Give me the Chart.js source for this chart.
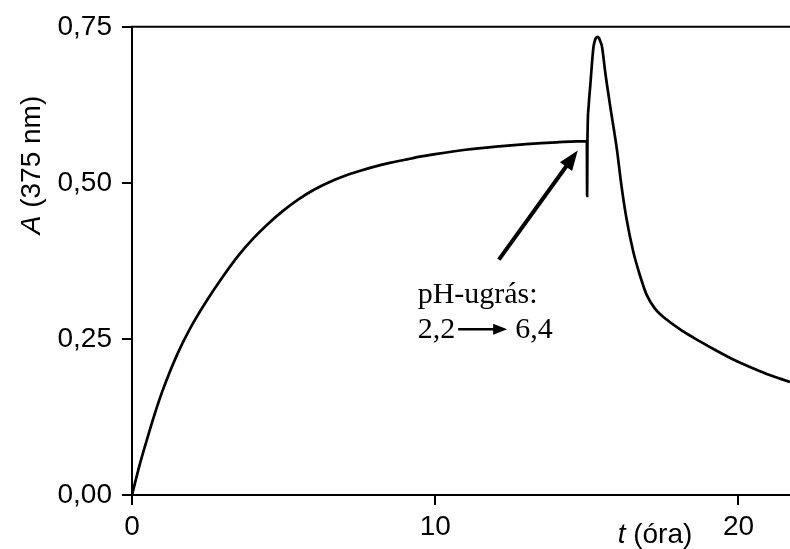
<!DOCTYPE html>
<html><head><meta charset="utf-8">
<script src="https://cdn.jsdelivr.net/npm/chart.js@4/dist/chart.umd.min.js"></script>
<style>html,body{margin:0;padding:0;background:#fff}#wrap{width:790px;height:549px}</style>
</head><body><div id="wrap"><canvas id="c" width="790" height="549"></canvas></div>
<script>
// time (hours)
const timeHours = [0, 0.25, 0.5, 0.75, 1.0, 1.5, 2.0, 2.5, 3.0, 3.5, 4.0, 4.5, 5.0, 5.5, 6.0, 6.5, 7.0, 7.5, 8.0, 8.5, 9.0, 9.5, 10.0, 11.0, 12.0, 13.0, 14.0, 15.0,
  15.01, 15.02, 15.06, 15.12, 15.17, 15.22, 15.26, 15.30, 15.35, 15.40, 15.45, 15.50, 15.61, 15.77, 15.99, 16.14, 16.31, 16.53, 16.75, 16.97, 17.24, 17.63, 18.18, 18.73, 19.28, 19.83, 20.38, 20.93, 21.70];
// absorbance at 375 nm
const absorbance = [0.000, 0.048, 0.090, 0.130, 0.166, 0.226, 0.274, 0.314, 0.350, 0.383, 0.411, 0.435, 0.456, 0.474, 0.489, 0.501, 0.511, 0.519, 0.526, 0.532, 0.537, 0.542, 0.546, 0.553, 0.558, 0.562, 0.565, 0.567,
  0.479, 0.567, 0.623, 0.660, 0.692, 0.718, 0.727, 0.732, 0.734, 0.732, 0.726, 0.718, 0.676, 0.623, 0.554, 0.496, 0.442, 0.390, 0.352, 0.321, 0.299, 0.281, 0.262, 0.246, 0.231, 0.217, 0.205, 0.194, 0.181];
const xTickValues = [0, 10, 20];
const yTickValues = [0, 0.25, 0.5, 0.75];
const yTitleParts = ['A', ' (375 nm)'];
const xTitleParts = ['t', ' (óra)'];
const noteLine1 = 'pH-ugrás:';
const notePhFrom = '2,2';
const notePhTo = '6,4';

const SANS = '"Liberation Sans", Arial, sans-serif';
const SERIF = '"Liberation Serif", "Times New Roman", serif';

function arrow(ctx, x1, y1, x2, y2, lw, headLen, headW) {
  const ang = Math.atan2(y2 - y1, x2 - x1);
  const bx = x2 - headLen * Math.cos(ang), by = y2 - headLen * Math.sin(ang);
  ctx.lineWidth = lw; ctx.lineCap = 'butt';
  ctx.beginPath(); ctx.moveTo(x1, y1); ctx.lineTo(bx + 2 * Math.cos(ang), by + 2 * Math.sin(ang)); ctx.stroke();
  ctx.beginPath();
  ctx.moveTo(x2, y2);
  ctx.lineTo(bx + headW / 2 * Math.sin(ang), by - headW / 2 * Math.cos(ang));
  ctx.lineTo(bx - headW / 2 * Math.sin(ang), by + headW / 2 * Math.cos(ang));
  ctx.closePath(); ctx.fill();
}

const decor = {
  id: 'decor',
  afterDraw(chart) {
    const { ctx, chartArea: a, scales: { x, y } } = chart;
    ctx.save();
    ctx.strokeStyle = '#000'; ctx.fillStyle = '#000';
    // top frame line
    ctx.lineWidth = 2;
    ctx.beginPath(); ctx.moveTo(a.left - 1, a.top); ctx.lineTo(a.right, a.top); ctx.stroke();

    // y title (rotated)
    ctx.save();
    ctx.translate(40, 165); ctx.rotate(-Math.PI / 2);
    ctx.textBaseline = 'alphabetic'; ctx.textAlign = 'left';
    ctx.font = 'italic 28px ' + SANS; const w1 = ctx.measureText(yTitleParts[0]).width;
    ctx.font = '28px ' + SANS; const w2 = ctx.measureText(yTitleParts[1]).width;
    let sx = -(w1 + w2) / 2;
    ctx.font = 'italic 28px ' + SANS; ctx.fillText(yTitleParts[0], sx, 0);
    ctx.font = '28px ' + SANS; ctx.fillText(yTitleParts[1], sx + w1, 0);
    ctx.restore();

    // x title
    ctx.textBaseline = 'alphabetic'; ctx.textAlign = 'left';
    ctx.font = 'italic 28px ' + SANS; const t1 = ctx.measureText(xTitleParts[0]).width;
    ctx.font = '28px ' + SANS; const t2 = ctx.measureText(xTitleParts[1]).width;
    const xs = 655 - (t1 + t2) / 2;
    ctx.font = 'italic 28px ' + SANS; ctx.fillText(xTitleParts[0], xs, 543);
    ctx.font = '28px ' + SANS; ctx.fillText(xTitleParts[1], xs + t1, 543);

    // annotation arrow (data coordinates)
    arrow(ctx, x.getPixelForValue(12.1), y.getPixelForValue(0.377), x.getPixelForValue(14.7), y.getPixelForValue(0.552), 4, 20, 15);

    // annotation text
    ctx.font = '30px ' + SERIF;
    const tx = x.getPixelForValue(9.42);
    const b1 = y.getPixelForValue(0.307), b2 = y.getPixelForValue(0.251);
    ctx.fillText(noteLine1, tx, b1);
    ctx.fillText(notePhFrom, tx, b2);
    const wf = ctx.measureText(notePhFrom).width;
    const toX = tx + wf + 60;
    ctx.fillText(notePhTo, toX, b2);
    arrow(ctx, tx + wf + 3, b2 - 9, toX - 8, b2 - 9, 2.5, 14, 11);
    ctx.restore();
  }
};

const fmt = v => v.toFixed(2).replace('.', ',');

new Chart(document.getElementById('c'), {
  type: 'scatter',
  data: {
    datasets: [{
      data: timeHours.map((t, i) => ({ x: t, y: absorbance[i] })),
      showLine: true, borderColor: '#000', borderWidth: 2.7, pointRadius: 0,
      cubicInterpolationMode: 'monotone', fill: false
    }]
  },
  options: {
    responsive: false, animation: false, devicePixelRatio: 1,
    layout: { padding: { top: 23, right: 0, left: 0, bottom: 0 } },
    plugins: { legend: { display: false }, tooltip: { enabled: false } },
    scales: {
      x: {
        type: 'linear', min: 0, max: 21.7,
        afterBuildTicks: s => { s.ticks = xTickValues.map(v => ({ value: v })); },
        afterFit: s => { s.height = 54; },
        ticks: { font: { family: SANS, size: 28 }, color: '#000', padding: 5, maxRotation: 0, autoSkip: false, callback: v => String(v) },
        grid: { drawOnChartArea: false, drawTicks: true, tickLength: 10, color: '#000', lineWidth: 2 },
        border: { display: true, color: '#000', width: 2 }
      },
      y: {
        type: 'linear', min: 0, max: 0.75,
        afterBuildTicks: s => { s.ticks = yTickValues.map(v => ({ value: v })); },
        afterFit: s => { s.width = 132; },
        ticks: { font: { family: SANS, size: 28 }, color: '#000', padding: 10, autoSkip: false, callback: v => fmt(v) },
        grid: { drawOnChartArea: false, drawTicks: true, tickLength: 10, color: '#000', lineWidth: 2 },
        border: { display: true, color: '#000', width: 2 }
      }
    }
  },
  plugins: [decor]
});
</script></body></html>
